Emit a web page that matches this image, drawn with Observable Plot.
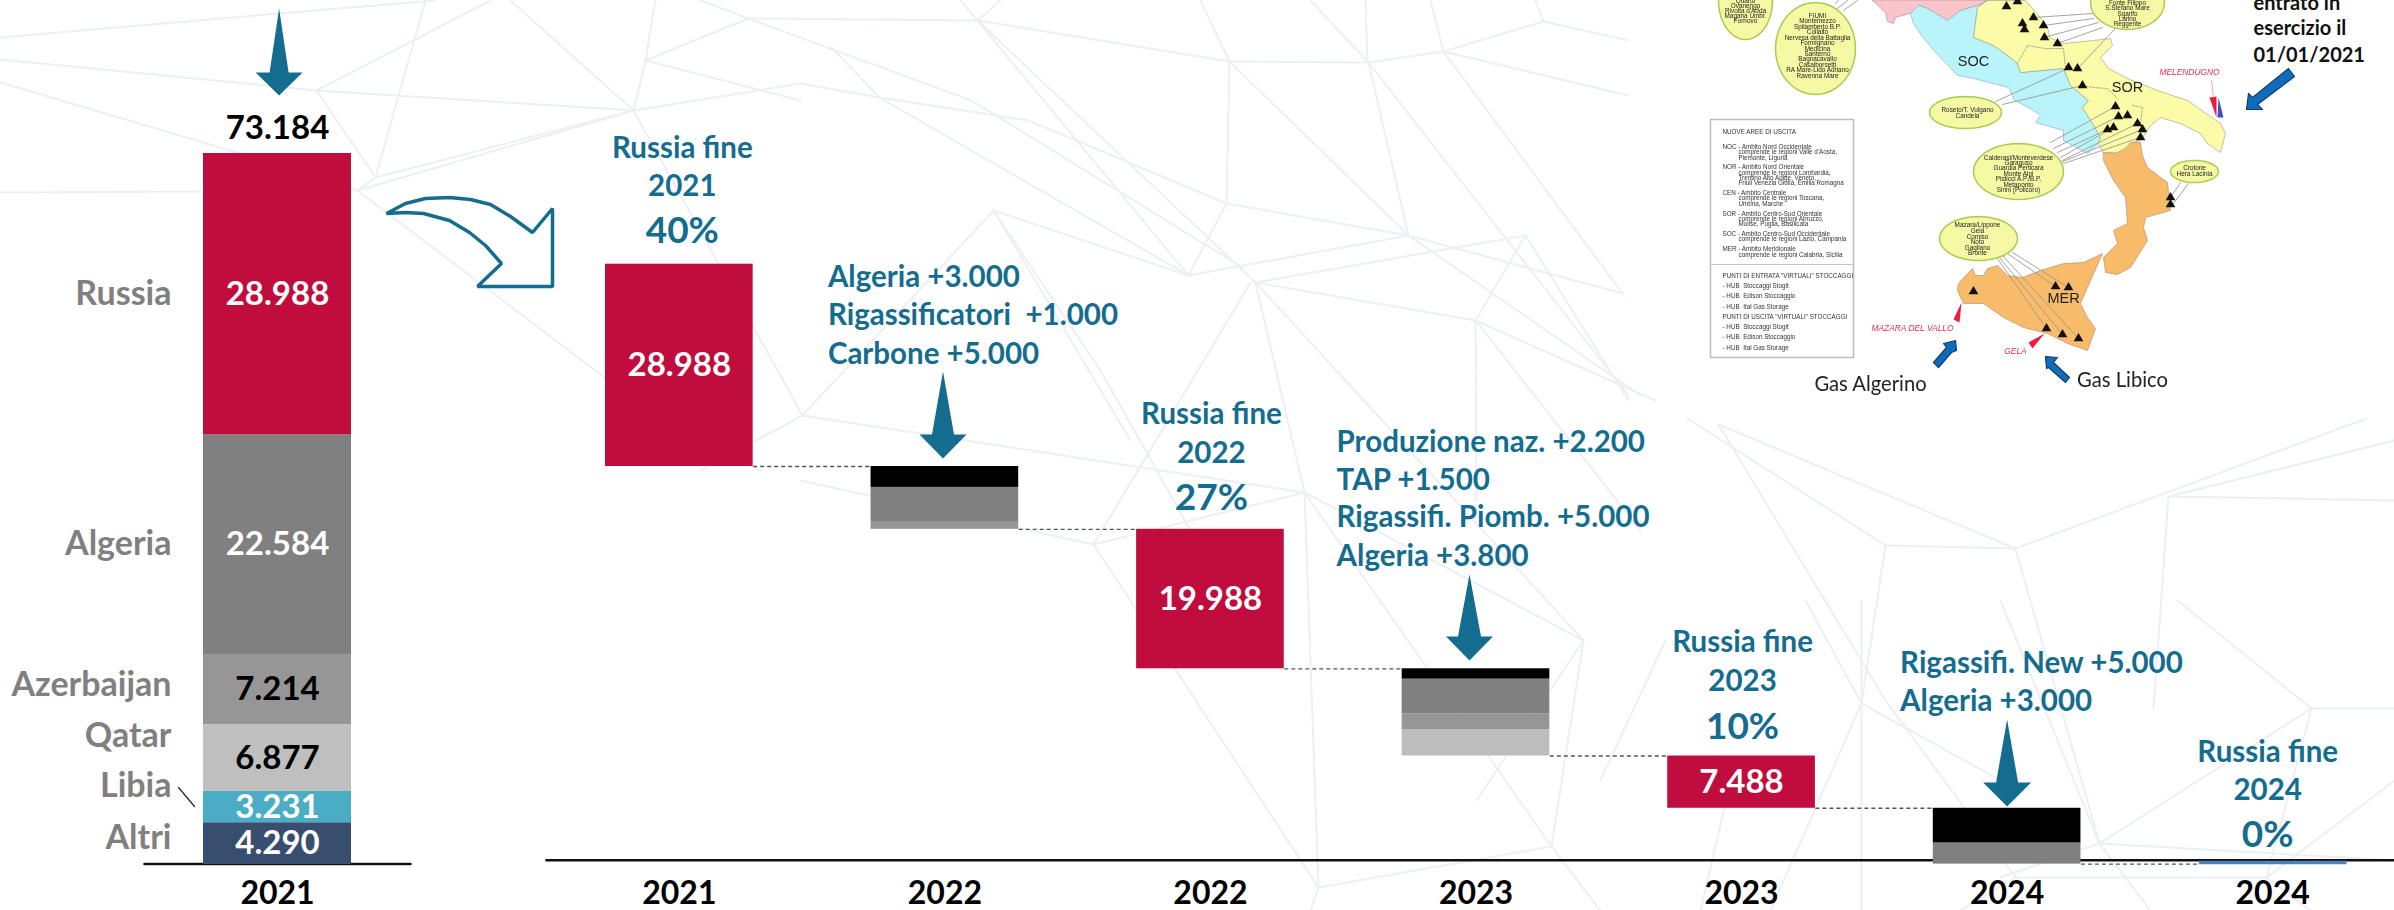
<!DOCTYPE html>
<html lang="it">
<head>
<meta charset="utf-8">
<title>Sostituzione del gas russo</title>
<script src="https://cdn.jsdelivr.net/npm/d3@7"></script>
<script src="https://cdn.jsdelivr.net/npm/@observablehq/plot@0.6"></script>
<style>
  html, body { margin: 0; padding: 0; background: #fff; overflow: hidden; }
  #page { position: relative; width: 2394px; height: 910px; }
  #page svg { position: absolute; left: 0; top: 0; }
</style>
</head>
<body>
<div id="page"></div>
<script>
// ---- Imports by origin, 2021 ----
const sources = ["Russia", "Algeria", "Azerbaijan", "Qatar", "Libia", "Altri"];
const sourceValues = [28988, 22584, 7214, 6877, 3231, 4290];
const sourceLabels = ["28.988", "22.584", "7.214", "6.877", "3.231", "4.290"];
const totalLabel = "73.184";
const baseYear = "2021";

// ---- Phase-out of Russian gas, step by step ----
const stepKeys = ["r2021", "s2022", "r2022", "s2023", "r2023", "s2024", "r2024"];
const stepYears = ["2021", "2022", "2022", "2023", "2023", "2024", "2024"];
const stepValues = [[28988], [3000, 5000, 1000], [19988], [1500, 5000, 2200, 3800], [7488], [5000, 3000], [0]];
const russiaLabels = { r2021: "28.988", r2022: "19.988", r2023: "7.488" };
const russiaNotes = [
  ["r2021", "Russia fine", "2021", "40%"],
  ["r2022", "Russia fine", "2022", "27%"],
  ["r2023", "Russia fine", "2023", "10%"],
  ["r2024", "Russia fine", "2024", "0%"]
];
const supplyNotes = [
  ["s2022", "Algeria +3.000", "Rigassificatori \u00a0+1.000", "Carbone +5.000"],
  ["s2023", "Produzione naz. +2.200", "TAP +1.500", "Rigassifi. Piomb. +5.000", "Algeria +3.800"],
  ["s2024", "Rigassifi. New +5.000", "Algeria +3.000"]
];

// ---- Colours and type ----
const teal = "#146c8f";
const russiaRed = "#c00d3e";
const sourceColors = ["#c00d3e", "#808080", "#969696", "#bfbfbf", "#4bacc6", "#384e6f"];
const labelInk = ["white", "white", "black", "black", "white", "white"];
const supplyShades = { s2022: ["#000", "#808080", "#969696"], s2023: ["#000", "#808080", "#969696", "#bdbdbd"], s2024: ["#000", "#808080"] };
const fontMain = "Lato, 'Open Sans', sans-serif";
const sizeLabel = 33, sizeName = 34, sizeYear = 32, sizeNote = 29.5, sizePercent = 37;
const barHalf = 0.278;

// ---- Decorative artwork, in page pixels ----
const webLines = [
  [[0,37],[278,13],[434,0]], [[0,59],[316,90],[633,110],[800,83],[879,97],[1028,120],[1226,203],[1408,235],[1622,293]],
  [[0,82],[240,153],[357,190],[612,383],[760,470]], [[0,192],[200,191]],
  [[357,190],[633,110]], [[375,177],[633,110]], [[357,190],[375,177]], [[316,90],[375,177],[425,0]], [[316,90],[490,0]],
  [[510,0],[633,110],[802,415],[700,470]], [[655,0],[645,60],[633,110]], [[645,60],[748,18],[700,0]], [[645,60],[800,100]],
  [[748,18],[977,20],[1229,61],[1368,62],[1443,51],[1543,21],[1628,40]], [[1443,51],[1628,95]], [[748,18],[971,100],[1242,267]],
  [[831,47],[879,97],[1188,275]], [[977,20],[1188,275]], [[977,20],[1255,282]], [[960,0],[977,20],[1000,0]],
  [[1229,61],[1226,203],[1188,275]], [[1229,61],[1408,235]], [[1368,62],[1408,235]], [[1368,62],[1628,395]], [[1443,51],[1622,293]],
  [[1200,0],[1229,61]], [[1368,62],[1310,0]], [[1367,62],[1365,0]], [[1443,51],[1430,0]], [[1543,21],[1535,0]],
  [[1188,275],[1408,235]], [[1255,282],[1525,235],[1475,320],[1476,500]], [[1255,282],[1475,320],[1655,400]], [[1408,235],[1640,395]],
  [[1525,235],[1628,400]], [[993,210],[1188,275]], [[993,210],[802,415]], [[993,210],[1130,440]], [[993,210],[1100,370],[1190,530]],
  [[802,415],[1304,492]], [[800,480],[1093,544]], [[1093,544],[1250,282]], [[1093,544],[1318,887]],
  [[1255,282],[1304,492],[1318,887]], [[1304,492],[1093,544]], [[1304,492],[1583,640],[1551,846],[1318,887]], [[1304,492],[1551,846]],
  [[1255,282],[1400,440],[1583,640]], [[1476,321],[1640,530]], [[1583,640],[1476,800]], [[1551,846],[1600,910]], [[1318,887],[1310,910]],
  [[1718,424],[2015,548],[2366,418]], [[1718,424],[1885,700],[2015,877]], [[2168,496],[2394,500]], [[2015,548],[1885,545],[1861,703]],
  [[2168,496],[2153,708]], [[1687,418],[1885,545]], [[2015,548],[2099,843]], [[2394,440],[2168,496]],
  [[2311,708],[2394,708]], [[2311,708],[2099,843]], [[2311,708],[2266,877]], [[2177,600],[2311,708]], [[2099,843],[2000,600]],
  [[2099,843],[2394,860]], [[2266,877],[2015,877]], [[2000,877],[2099,843]], [[2266,877],[2394,780]], [[1861,703],[1805,600]],
  [[1861,703],[1770,910]], [[1861,703],[2000,780]], [[1861,600],[1861,910]], [[1665,640],[1600,780]], [[1735,760],[1700,910]],
  [[2266,877],[2310,910]], [[2015,877],[1960,910]], [[2099,843],[2150,910]]
];
const mapWhite = [[1628,0],[2394,0],[2394,415],[1656,415],[1656,300],[1628,300]];

const pink = [[1872,0],[1885,12],[1887,21],[1893,23],[1895,17],[1913,12],[1918,5],[1927,8],[1947,20],[1960,10],[1977,5],[1987,0]];
const cyan = [[1918,5],[1910,13],[1913,23],[1923,38],[1938,55],[1957,75],[1973,78],[2008,87],[2014,100],[2030,108],[2040,115],[2035,122],[2063,130],[2063,140],[2087,153],[2098,143],[2100,137],[2092,123],[2082,107],[2088,100],[2070,85],[2063,68],[2020,72],[2017,63],[2010,57],[1993,45],[1973,37],[1977,7],[1987,0],[1977,5],[1960,10],[1947,20],[1927,8]];
const yellow = [[1987,0],[2025,0],[2040,17],[2048,30],[2049,37],[2063,43],[2093,40],[2110,38],[2112,45],[2100,57],[2108,68],[2127,78],[2157,90],[2187,100],[2220,123],[2225,133],[2220,152],[2207,143],[2200,133],[2180,123],[2160,117],[2150,125],[2140,140],[2132,142],[2127,153],[2103,152],[2098,143],[2100,137],[2092,123],[2082,107],[2088,100],[2070,85],[2063,68],[2020,72],[2017,63],[2010,57],[1993,45],[1973,37],[1977,7]];
const calabria = [[2103,152],[2115,153],[2125,148],[2130,142],[2140,142],[2142,155],[2147,167],[2167,182],[2170,210],[2145,217],[2143,227],[2147,240],[2130,267],[2117,274],[2105,272],[2103,257],[2117,243],[2113,230],[2127,223],[2125,197],[2113,180],[2103,160]];
const sicily = [[1958,283],[1968,272],[1972,268],[1975,275],[1983,275],[1987,268],[1997,265],[2007,275],[2022,277],[2040,270],[2063,263],[2083,262],[2102,253],[2087,287],[2080,303],[2087,317],[2095,328],[2087,350],[2067,343],[2047,333],[2023,327],[2003,317],[1983,303],[1963,303],[1957,290]];
const innerBorders = [
  [[2017,63],[2027,45],[2045,48],[2063,48],[2065,68]],
  [[2082,85],[2093,87],[2107,88],[2117,98]],
  [[2132,105],[2142,107],[2140,123]]
];
const feederLines = [
  [[2093,13],[2033,17]], [[2093,18],[2043,25]], [[2098,22],[2044,37]], [[2102,27],[2057,43]], [[2115,28],[2077,68]],
  [[1995,101],[2063,70]], [[2002,104],[2082,85]],
  [[2050,142],[2115,106]], [[2053,148],[2118,116]], [[2057,152],[2107,129]], [[2060,157],[2113,127]], [[2062,160],[2137,123]], [[2060,162],[2142,129]], [[2063,163],[2140,137]],
  [[2180,182],[2170,197]], [[2188,183],[2173,203]],
  [[1997,258],[2046,328]], [[1999,257],[2062,334]], [[2002,255],[2078,338]], [[2007,253],[2055,286]], [[2012,252],[2068,287]],
  [[1835,3],[1838,0]], [[1837,8],[1847,0]], [[1843,10],[1857,0]]
];
const mapSites = [
  [2006,6],[2017,1],[2033,17],[2022,23],[2024,29],[2043,25],[2044,37],[2057,43],[2068,67],[2077,68],[2082,85],
  [2115,106],[2118,116],[2127,115],[2107,129],[2113,127],[2137,123],[2142,129],[2140,137],[2170,197],[2170,204],
  [1973,291],[2055,286],[2068,287],[2046,328],[2062,334],[2078,338]
];
const meltWedge = [[2209,97],[2216,96],[2216,117]];
const meltBlueWedge = [[2218,97],[2223,117],[2217,117]];
const mazaraWedge = [[1961,302],[1953,319],[1959,322]];
const gelaWedge = [[2044,333],[2028,342],[2032,348]];
const blueArrows = [
  [[2246,109],[2262,109],[2257,104],[2294,76],[2288,68],[2252,97],[2248,93]],
  [[1955,340],[1943,343],[1946,347],[1933,362],[1938,367],[1951,352],[1956,350]],
  [[2045,356],[2057,357],[2053,362],[2069,377],[2065,382],[2048,367],[2046,368]]
];
const mapEllipses = [
  [1745,0,27,39], [1815,48,40,46], [1965,112,36,16], [2018,171,45,28], [2127,2,37,27], [2194,171,24,11], [1978,238,39,22]
];
const ellipseTexts = [
  [1745, [["Quarto",0],["Ovanengo",5],["Rivolta d'Adda",10],["Magana Umbr.",15],["Fornovo",20.5]]],
  [1817, [["FIUMI",15],["Montemezzo",20],["Spilamberto B.P.",26],["Collalto",31],["Nervesa della Battaglia",37],["Formignano",42],["Medicina",48],["Santerno",53],["Bagnacavallo",58],["Casalborsetti",64],["RA Mare-Lido Adriano",69],["Ravenna Mare",75]]],
  [1967, [["Roseto/T. Vulgano",109],["Candela",115]]],
  [2018, [["Calderasi/Monteverdese",157],["Garaguso",162],["Guardia Perticara",167],["Monte Alpi",173],["Pisticci A.P./B.P.",178],["Metaponto",184],["Sinni (Policoro)",189]]],
  [2127, [["Fonte Filippo",2],["S.Stefano Mare",7],["Sgarifo",13],["Larino",18],["Reggente",23]]],
  [2194, [["Crotone",167],["Hera Lacinia",173]]],
  [1977, [["Mazara/Lippone",224],["Gela",230],["Comiso",236],["Noto",241],["Gagliano",247],["Bronte",252]]]
];
const legendBox = [[1710,119],[1853,119],[1853,357],[1710,357]];
const legendDivider = [[1710,264],[1853,264]];
const legendRows = [
  ["NUOVE AREE DI USCITA",1722,131],
  ["NOC - Ambito Nord Occidentale",1722,146],["comprende le regioni Valle d'Aosta,",1738,151],["Piemonte, Liguria",1738,157],
  ["NOR - Ambito Nord Orientale",1722,166],["comprende le regioni Lombardia,",1738,172],["Trentino Alto Adige, Veneto,",1738,177],["Friuli Venezia Giulia, Emilia Romagna",1738,182],
  ["CEN - Ambito Centrale",1722,192],["comprende le regioni Toscana,",1738,197],["Umbria, Marche",1738,203],
  ["SOR - Ambito Centro-Sud Orientale",1722,213],["comprende le regioni Abruzzo,",1738,218],["Molise, Puglia, Basilicata",1738,223],
  ["SOC - Ambito Centro-Sud Occidentale",1722,233],["comprende le regioni Lazio, Campania",1738,238],
  ["MER - Ambito Meridionale",1722,248],["comprende le regioni Calabria, Sicilia",1738,254],
  ["PUNTI DI ENTRATA \"VIRTUALI\" STOCCAGGI",1722,275],["- HUB  Stoccaggi Stogit",1722,285],["- HUB  Edison Stoccaggio",1722,295],["- HUB  Ital Gas Storage",1722,306],
  ["PUNTI DI USCITA \"VIRTUALI\" STOCCAGGI",1722,316],["- HUB  Stoccaggi Stogit",1722,326],["- HUB  Edison Stoccaggio",1722,336],["- HUB  Ital Gas Storage",1722,347]
];
const entryNote = [["entrato in",3],["esercizio il",28],["01/01/2021",55]];

const curvedArrow = [[386,213],[405,203],[425,198],[449,197],[470,199],[490,204],[510,216],[532,232],[552,208],[552,286],[477,286],[501,263],[485,245],[469,232],[449,220],[423,213],[405,212]];
const downArrows = [[278.6,8,95,72,9.5,23.5],[942.5,371,458,434,11,23.5],[1469,574,660,636,11.5,23.5],[2006.6,719,806,782,11,24]];
const libiaLeader = [[178,787],[194,806]];
const leftBaseline = [[144,863.5],[410,863.5]];
const rightBaseline = [[546,859.7],[2394,859.7]];

// ---- Helpers ----
const pt = {x: d => d[0], y: d => d[1]};
const pagePlot = (marks, extraStyle = {}) => Plot.plot({
  width: 2394, height: 910, margin: 0,
  x: {domain: [0, 2394], range: [0, 2394], axis: null},
  y: {domain: [0, 910], range: [0, 910], axis: null},
  style: {background: "transparent", ...extraStyle},
  marks
});
const shape = (points, o) => Plot.line(points, {...pt, curve: "linear-closed", ...o});
const stroke = (points, o) => Plot.line(points, {...pt, ...o});
const ellipsePoints = ([cx, cy, rx, ry]) => d3.range(48).map(i => {
  const a = i / 48 * 2 * Math.PI;
  return [cx + rx * Math.cos(a), cy + ry * Math.sin(a)];
});
const downArrow = ([cx, top, tip, head, shaft, wing]) =>
  [[cx, top], [cx + shaft, head], [cx + wing, head], [cx, tip], [cx - wing, head], [cx - shaft, head]];
const pageText = (rows, o) => Plot.text(rows, {x: d => d[1], y: d => d[2], text: d => d[0], ...o});

// ---- Background web and page furniture ----
const backdrop = pagePlot([
  ...webLines.map(l => stroke(l, {stroke: "#ebeff6", strokeWidth: 2})),
  shape(mapWhite, {fill: "white", stroke: "none"}),
  stroke(leftBaseline, {stroke: "#111", strokeWidth: 2.5}),
  stroke(rightBaseline, {stroke: "#111", strokeWidth: 2.5}),
  ...downArrows.map(a => shape(downArrow(a), {fill: teal, stroke: "none"})),
  shape(curvedArrow, {fill: "white", stroke: teal, strokeWidth: 3.5, strokeLinejoin: "miter"}),
  stroke(libiaLeader, {stroke: "#222", strokeWidth: 1.2})
]);

// ---- Inset map of the Italian gas exit areas ----
const mapFont = "'Liberation Sans', Arial, sans-serif";
const inset = pagePlot([
  shape(pink, {fill: "#fbc4ca", stroke: "#a88", strokeWidth: 0.6}),
  shape(cyan, {fill: "#b9f4fa", stroke: "#8ab", strokeWidth: 0.6}),
  shape(yellow, {fill: "#fbfba8", stroke: "#998", strokeWidth: 0.6}),
  shape(calabria, {fill: "#f8bb69", stroke: "#a87", strokeWidth: 0.6}),
  shape(sicily, {fill: "#f8bb69", stroke: "#a87", strokeWidth: 0.6}),
  ...innerBorders.map(l => stroke(l, {stroke: "#777", strokeWidth: 0.6, strokeDasharray: "2,1.5"})),
  ...feederLines.map(l => stroke(l, {stroke: "#9a9a9a", strokeWidth: 0.9})),
  ...mapEllipses.map(e => shape(ellipsePoints(e), {fill: "#f6f9a4", stroke: "#a8cc50", strokeWidth: 1.5})),
  Plot.dot(mapSites, {...pt, symbol: "triangle", r: 3.6, fill: "#111", stroke: "none"}),
  ...ellipseTexts.map(([cx, rows]) =>
    Plot.text(rows, {x: () => cx, y: d => d[1], text: d => d[0], fontSize: 6.4, fill: "#222", fontFamily: mapFont})
  ),
  shape(legendBox, {fill: "white", stroke: "#bdbdbd", strokeWidth: 1.5}),
  stroke(legendDivider, {stroke: "#c4c4c4", strokeWidth: 1.2}),
  pageText(legendRows, {fontSize: 6.3, fill: "#333", fontFamily: mapFont, textAnchor: "start"}),
  pageText([["SOC",1973,61],["SOR",2127,87],["MER",2063,298]], {fontSize: 14.5, fill: "#222", fontFamily: mapFont}),
  shape(meltWedge, {fill: "#ee1c3a", stroke: "none"}),
  shape(meltBlueWedge, {fill: "#3f52c8", stroke: "none"}),
  shape(mazaraWedge, {fill: "#ee1c3a", stroke: "none"}),
  shape(gelaWedge, {fill: "#ee1c3a", stroke: "none"}),
  stroke([[2211,80],[2213,97]], {stroke: "#e88", strokeWidth: 0.7}),
  pageText([["MELENDUGNO",2189,72],["MAZARA DEL VALLO",1912,328],["GELA",2015,351]], {fontSize: 8.4, fill: "#ee2a4c", fontStyle: "italic", fontFamily: mapFont}),
  ...blueArrows.map(a => shape(a, {fill: "#0f6cbd", stroke: "#153e66", strokeWidth: 1.2})),
  pageText([["Gas Algerino",1870,384],["Gas Libico",2122,380]], {fontSize: 20.2, fill: "#222", fontFamily: fontMain})
], {filter: "blur(0.45px)"});

const entryLabels = pagePlot([
  Plot.text(entryNote, {x: () => 2253, y: d => d[1], text: d => d[0], textAnchor: "start", fontSize: 20, fontWeight: "bold", fill: "#111", fontFamily: fontMain})
]);

// ---- Left column: imports by origin ----
let runningTop = d3.sum(sourceValues);
const sourceRows = sources.map((source, i) => {
  const y2 = runningTop, y1 = runningTop - sourceValues[i];
  runningTop = y1;
  return {source, y1, y2, mid: (y1 + y2) / 2, label: sourceLabels[i], color: sourceColors[i], ink: labelInk[i]};
});
const nameLift = [0, -1, -4, -22, -21, -6];
const leftChart = Plot.plot({
  width: 2394, height: 910, marginTop: 153, marginBottom: 46, marginLeft: 203, marginRight: 2043,
  x: {domain: [baseYear], padding: 0, axis: null},
  y: {domain: [0, d3.sum(sourceValues)], axis: null},
  color: {type: "identity"},
  style: {background: "transparent", fontFamily: fontMain},
  marks: [
    Plot.barY(sourceRows, {x: () => baseYear, y1: "y1", y2: "y2", fill: "color"}),
    Plot.text(sourceRows, {x: () => baseYear, y: "mid", text: "label", fill: "ink", fontSize: sizeLabel, fontWeight: "bold"}),
    ...sourceRows.map((d, i) => Plot.text([d], {x: () => baseYear, y: "mid", text: "source", dx: -106, dy: nameLift[i], textAnchor: "end", fill: "#808080", fontSize: sizeName, fontWeight: "bold"})),
    Plot.text([totalLabel], {x: () => baseYear, y: () => d3.sum(sourceValues), dy: -25, fill: "black", fontSize: sizeLabel, fontWeight: "bold"}),
    Plot.axisX({anchor: "bottom", label: null, tickSize: 0, tickPadding: 17, fontSize: sizeYear, fontWeight: "bold", fill: "black"})
  ]
});

// ---- Waterfall: each supply block replaces a slice of Russian gas ----
const grandTotal = d3.sum(stepValues.flat());
let level = grandTotal;
const stepRows = [];
const levels = [];
stepKeys.forEach((step, s) => {
  const top = level;
  stepValues[s].forEach((v, i) => {
    const isRussia = step.startsWith("r");
    stepRows.push({step, index: s, y2: level, y1: level - v, color: isRussia ? russiaRed : supplyShades[step][i], value: v});
    level -= v;
  });
  levels.push({step, index: s, top, bottom: level});
});
const levelOf = Object.fromEntries(levels.map(d => [d.step, d]));
const russiaNoteDx = [3, 1, 1, -5];
const russiaNoteDy = [[-116, -78, -33], [-115, -76, -31.5], [-113, -74, -29], [-112, -74, -29]];
const supplyNoteDx = [-117, -139.4, -107];
const supplyNoteDy = [[-189, -151, -112], [-226, -188, -151, -112], [-144.6, -106.6]];

const waterfall = Plot.plot({
  width: 2394, height: 910, marginTop: 263.7, marginBottom: 46.4, marginLeft: 605, marginRight: 48,
  x: {domain: [-barHalf, stepKeys.length - 1 + barHalf], axis: null},
  y: {domain: [0, grandTotal], axis: null},
  color: {type: "identity"},
  style: {background: "transparent", fontFamily: fontMain},
  marks: [
    Plot.link(levels.slice(0, -1), {x1: d => d.index + barHalf, x2: d => d.index + 1 - barHalf, y1: "bottom", y2: "bottom", stroke: "#555", strokeWidth: 1.3, strokeDasharray: "4,3"}),
    Plot.rect(stepRows.filter(d => d.value > 0), {x1: d => d.index - barHalf, x2: d => d.index + barHalf, y1: "y1", y2: "y2", fill: "color"}),
    Plot.link(stepRows.filter(d => d.value === 0), {x1: d => d.index - barHalf, x2: d => d.index + barHalf, y1: "y1", y2: "y1", dy: -1.5, stroke: "#4f81bd", strokeWidth: 3.5}),
    Plot.text(stepRows.filter(d => russiaLabels[d.step]), {x: "index", y: d => (d.y1 + d.y2) / 2, text: d => russiaLabels[d.step], fill: "white", fontSize: sizeLabel, fontWeight: "bold"}),
    ...russiaNotes.flatMap(([step, a, b, share], n) => [
      ...[a, b].map((line, i) => Plot.text([line], {x: () => levelOf[step].index, y: () => levelOf[step].top, dx: russiaNoteDx[n], dy: russiaNoteDy[n][i], fill: teal, fontSize: sizeNote, fontWeight: "bold"})),
      Plot.text([share], {x: () => levelOf[step].index, y: () => levelOf[step].top, dx: russiaNoteDx[n], dy: russiaNoteDy[n][2], fill: teal, fontSize: sizePercent, fontWeight: "bold"})
    ]),
    ...supplyNotes.flatMap(([step, ...lines], n) => lines.map((line, i) =>
      Plot.text([line], {x: () => levelOf[step].index, y: () => levelOf[step].top, dx: supplyNoteDx[n], dy: supplyNoteDy[n][i], textAnchor: "start", fill: teal, fontSize: sizeNote, fontWeight: "bold"})
    )),
    Plot.axisX({anchor: "bottom", label: null, tickSize: 0, tickPadding: 17, ticks: stepKeys.map((k, i) => i), tickFormat: i => stepYears[i], fontSize: sizeYear, fontWeight: "bold", fill: "black"})
  ]
});

document.getElementById("page").append(backdrop, inset, entryLabels, leftChart, waterfall);
</script>
</body>
</html>
